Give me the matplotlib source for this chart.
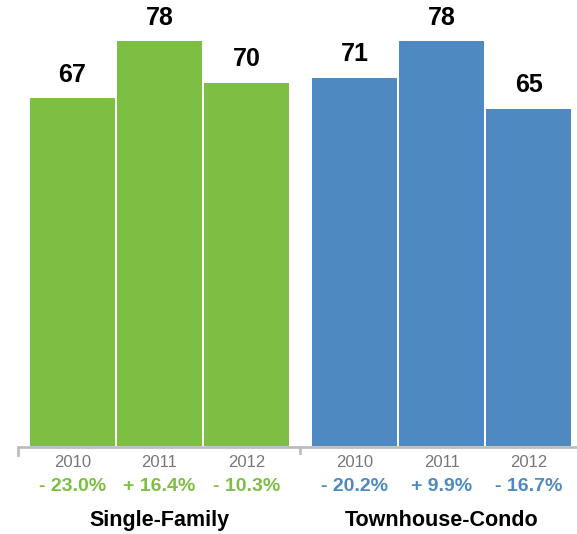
import matplotlib
matplotlib.use("Agg")
import matplotlib.pyplot as plt

groups = ["Single-Family", "Townhouse-Condo"]
years = ["2010", "2011", "2012"]
single_family = [67, 78, 70]
townhouse_condo = [71, 78, 65]
sf_changes = ["- 23.0%", "+ 16.4%", "- 10.3%"]
tc_changes = ["- 20.2%", "+ 9.9%", "- 16.7%"]

GREEN = "#7CBF42"
BLUE = "#4E8AC1"
GRAY_TXT = "#777777"
AXIS = "#BDBDBD"

plt.rcParams["font.family"] = ["Liberation Sans", "DejaVu Sans"]

fig = plt.figure(figsize=(5.77, 5.34), dpi=100)
ax = fig.add_axes([0, 0, 1, 1])
ax.set_xlim(-72.5 / 87, (577 - 72.5) / 87)
ax.set_ylim(-(534 - 446) / 5.19, 446 / 5.19)
ax.axis("off")

width = 85 / 87
offsets = [0.0, 3.247]
series = [single_family, townhouse_condo]
changes = [sf_changes, tc_changes]
colors = [GREEN, BLUE]

for g, (off, vals, chg, col, name) in enumerate(zip(offsets, series, changes, colors, groups)):
    xs = [off + i for i in range(len(vals))]
    ax.bar(xs, vals, width=width, color=col, linewidth=0, zorder=2)
    for x, v, c, yr in zip(xs, vals, chg, years):
        ax.annotate(str(v), (x, v), xytext=(0, 12), textcoords="offset points",
                    ha="center", va="baseline", fontsize=18, fontweight="bold", color="black")
        ax.text(x, -3.1, yr, ha="center", va="center", fontsize=12, color=GRAY_TXT)
        ax.text(x, -7.75, c, ha="center", va="center", fontsize=14, fontweight="bold", color=col)
    ax.text(off + 1, -14.45, name, ha="center", va="center", fontsize=15.5, fontweight="bold", color="black")

# baseline axis line with ticks
x_left = -0.626
x_mid = 2.615
x_right = (577 - 72.5) / 87
ax.plot([x_left, x_right], [-0.2, -0.2], color=AXIS, lw=2, zorder=1, solid_capstyle="butt")
ax.plot([x_left, x_left], [-0.2, -1.8], color=AXIS, lw=2, zorder=1)
ax.plot([x_mid, x_mid], [-0.2, -1.3], color=AXIS, lw=2, zorder=1)

fig.savefig("out.png", dpi=100)
